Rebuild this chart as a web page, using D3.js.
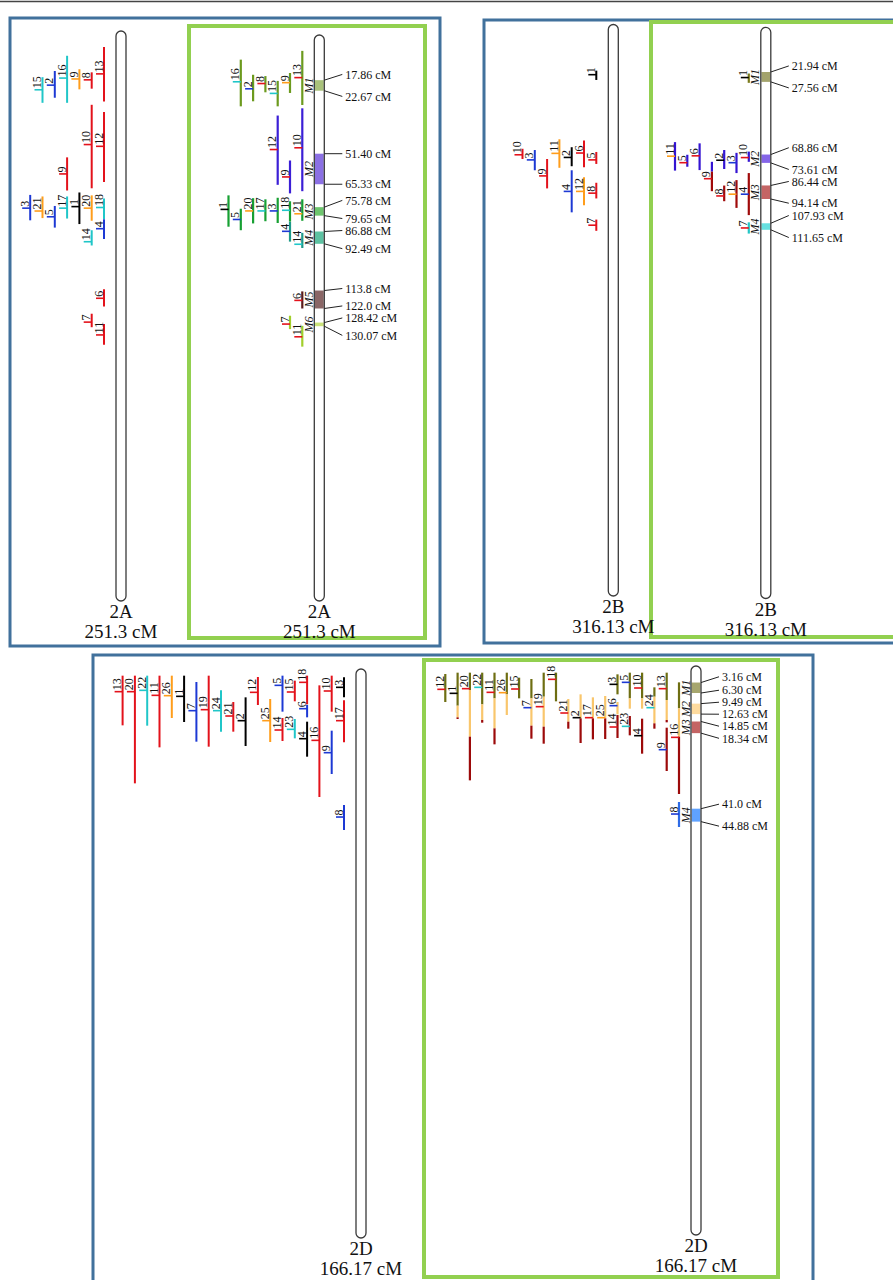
<!DOCTYPE html>
<html><head><meta charset="utf-8">
<script src="https://cdn.jsdelivr.net/npm/d3@7"></script>
<style>
body{margin:0;background:#fff}
svg{display:block}
text{font-family:"Liberation Serif","Times New Roman",serif;fill:#111}
</style>
</head><body>
<svg id="c" width="893" height="1280"></svg>
<script>
// ================= DATA =================
// QTL rows: [label, trait group, start cM, peak cM, end cM, left track, right track, right-panel cluster segments]
// cluster segments: ["M1"] or ["M1", breakCM, "M2", ...]

const len2A = 251.3;
const meta2A = [["M1","17.86","22.67"],["M2","51.40","65.33"],["M3","75.78","79.65"],["M4","86.88","92.49"],["M5","113.8","122.0"],["M6","128.42","130.07"]];
const qtl2A = [
 ["15","c",18.2,23.9,29.8,5,2,["M1"]],
 ["2","b",15.4,21.8,27.5,4,4,["M1"]],
 ["16","c",8.5,18.6,29.8,3,5,["M1"]],
 ["9","o",14.6,19.0,23.7,2,1,["M1"]],
 ["8","r",16.0,19.4,23.4,1,3,["M1"]],
 ["13","r",4.5,16.7,29.2,0,0,["M1"]],
 ["10","r",30.7,48.7,68.5,1,0,["M2"]],
 ["12","r",34.0,49.5,65.6,0,2,["M2"]],
 ["9","r",54.5,62.0,69.5,3,1,["M2"]],
 ["3","b",71.5,77.5,83.0,6,2,["M3"]],
 ["21","o",72.2,78.8,82.0,5,0,["M3"]],
 ["5","b",76.5,81.4,86.3,4,5,["M3"]],
 ["17","c",72.2,77.5,82.2,3,3,["M3"]],
 ["1","k",70.4,76.8,84.7,2,6,["M3"]],
 ["20","o",71.7,77.5,83.2,1,4,["M3"]],
 ["18","c",73.1,77.2,82.4,0,1,["M3"]],
 ["4","b",82.5,86.8,91.5,0,1,["M4"]],
 ["14","c",87.5,92.7,94.4,1,0,["M4"]],
 ["6","r",114.2,118.3,122.0,0,0,["M5"]],
 ["7","r",125.3,129.1,131.4,1,1,["M6"]],
 ["11","r",129.9,134.9,139.4,0,0,["M6"]]
];

const len2B = 316.13;
const meta2B = [["M1","21.94","27.56"],["M2","68.86","73.61"],["M3","86.44","94.14"],["M4","107.93","111.65"]];
const qtl2B = [
 ["1","k",22.8,25.1,28.1,0,0,["M1"]],
 ["10","r",67.2,70.6,73.0,6,0,["M2"]],
 ["3","b",67.9,73.5,79.4,5,1,["M2"]],
 ["9","r",73.0,82.6,89.7,4,3,["M2",78.6,"M3"]],
 ["11","o",61.8,69.8,78.0,3,6,["M2"]],
 ["2","k",66.3,72.1,77.1,2,2,["M2"]],
 ["6","r",62.5,69.6,77.7,1,4,["M2"]],
 ["5","r",69.0,73.5,75.8,0,5,["M2"]],
 ["4","b",79.4,91.4,103.3,2,0,["M3"]],
 ["12","o",83.4,91.4,99.2,1,1,["M3"]],
 ["8","r",86.5,92.4,95.4,0,2,["M3"]],
 ["7","r",107.4,110.6,113.8,0,0,["M4"]]
];

const len2D = 166.17;
const meta2D = [["M1","3.16","6.30"],["M2","9.49","12.63"],["M3","14.85","18.34"],["M4","41.0","44.88"]];
const qtl2D = [
 ["13","r",0.2,5.0,15.1,18,1,["M1",8.4,"M2",14.4,"M3"]],
 ["20","r",0.2,5.0,32.5,17,17,["M1",5.4,"M2",19.4,"M3"]],
 ["22","c",0.2,4.6,15.2,16,16,["M1",9.7,"M2",14.4,"M3"]],
 ["11","r",0.2,6.1,21.7,15,15,["M1",7.9,"M2",16.9,"M3"]],
 ["26","o",0.2,6.2,12.9,14,14,["M1",6.7,"M2"]],
 ["1","k",0.2,6.4,14.1,13,18,["M1",10.1,"M2",13.6,"M3"]],
 ["7","b",2.1,10.7,20.0,12,12,["M1",7.9,"M2",16.1,"M3"]],
 ["19","r",0.2,10.4,21.5,11,11,["M1",7.4,"M2",16.4,"M3"]],
 ["24","c",4.6,10.7,17.0,10,2,["M1",7.4,"M2",15.4,"M3"]],
 ["21","r",8.1,12.3,17.0,9,9,["M2",14.9,"M3"]],
 ["2","k",6.7,13.7,21.3,8,8,["M2",13.9,"M3"]],
 ["12","r",0.6,5.2,9.0,7,19,["M1"]],
 ["25","o",7.2,13.7,20.1,6,6,["M2",13.9,"M3"]],
 ["5","b",0.2,3.1,11.0,5,4,["M1",7.9,"M2"]],
 ["14","r",12.9,16.5,19.8,5,5,["M3"]],
 ["15","r",1.7,5.1,7.9,4,13,["M1"]],
 ["23","c",13.2,16.3,19.0,4,4,["M3"]],
 ["18","r",0.2,2.2,8.8,3,10,["M1"]],
 ["6","b",9.0,10.1,12.7,3,5,["M2"]],
 ["4","k",14.0,19.1,24.5,3,3,["M3"]],
 ["16","r",3.1,19.6,36.6,2,0,["M1",10.9,"M2",19.4,"M3"]],
 ["10","r",0.2,4.8,11.0,1,3,["M1",7.9,"M2"]],
 ["9","b",16.7,23.3,29.7,1,1,["M3"]],
 ["3","k",0.7,3.7,6.7,0,5,["M1"]],
 ["17","r",7.6,13.7,20.2,0,7,["M2",13.9,"M3"]],
 ["8","b",39.0,42.6,46.5,0,0,["M4"]]
];

// ================= STYLE / LAYOUT =================
const groupColor = d3.scaleOrdinal().domain(["r","o","c","b","k"])
  .range(["#e3121b","#ff9d1b","#20c6c8","#1d39d4","#000000"]);

const clusterBar = {
  "2A": d3.scaleOrdinal().domain(["M1","M2","M3","M4","M5","M6"]).range(["#6c9a1e","#3b1fd6","#17a032","#1e9a88","#5a1c1c","#a2cf2c"]),
  "2B": d3.scaleOrdinal().domain(["M1","M2","M3","M4"]).range(["#7b7b1c","#3414d2","#a00a0a","#22c6c6"]),
  "2D": d3.scaleOrdinal().domain(["M1","M2","M3","M4"]).range(["#6e6e12","#f9c66c","#9c0a0a","#2e6be6"])
};
const clusterBox = {
  "2A": d3.scaleOrdinal().domain(["M1","M2","M3","M4","M5","M6"]).range(["#a9c27b","#8b70e4","#6dc56d","#5dc2a2","#8a6666","#cae27a"]),
  "2B": d3.scaleOrdinal().domain(["M1","M2","M3","M4"]).range(["#a3a36c","#8565e8","#c46464","#66e0e0"]),
  "2D": d3.scaleOrdinal().domain(["M1","M2","M3","M4"]).range(["#a6a66e","#fedb9e","#c46464","#5fa2ff"])
};

const svg = d3.select("#c");

// top rule
svg.append("line").attr("x1",0).attr("x2",893).attr("y1",1.5).attr("y2",1.5)
  .attr("stroke","#444").attr("stroke-width",1.5);

// panel frames
const frames = [
  {x:10,y:18,w:430,h:628,c:"#41719c",sw:3},
  {x:189,y:26,w:236,h:612,c:"#92d050",sw:4},
  {x:484,y:20,w:420,h:623,c:"#41719c",sw:3},
  {x:651,y:22,w:260,h:615,c:"#92d050",sw:4},
  {x:93,y:655,w:720,h:650,c:"#41719c",sw:3},
  {x:424,y:660,w:354,h:617,c:"#92d050",sw:4}
];
svg.selectAll("rect.frame").data(frames).join("rect").attr("class","frame")
  .attr("x",d=>d.x).attr("y",d=>d.y).attr("width",d=>d.w).attr("height",d=>d.h)
  .attr("fill","none").attr("stroke",d=>d.c).attr("stroke-width",d=>d.sw);

const chroms = [
  {name:"2A", len:len2A, qtl:qtl2A, meta:meta2A, side:"L", cx:121,   y0:37,   y1:592},
  {name:"2A", len:len2A, qtl:qtl2A, meta:meta2A, side:"R", cx:319.3, y0:41,   y1:592},
  {name:"2B", len:len2B, qtl:qtl2B, meta:meta2B, side:"L", cx:613.3, y0:30.5, y1:587},
  {name:"2B", len:len2B, qtl:qtl2B, meta:meta2B, side:"R", cx:765.8, y0:33.4, y1:589.5},
  {name:"2D", len:len2D, qtl:qtl2D, meta:meta2D, side:"L", cx:361,   y0:675,  y1:1229},
  {name:"2D", len:len2D, qtl:qtl2D, meta:meta2D, side:"R", cx:696,   y0:672,  y1:1226}
];

const TRACK0 = 17, TRACKSTEP = 12.3, HALFW = 5;

function layoutLabels(items, gap){
  for(let it=0; it<200; it++){
    let moved=false;
    for(let i=1;i<items.length;i++){
      const d = items[i].ly - items[i-1].ly;
      if(d < gap - 0.01){
        const s=(gap-d)/2; items[i].ly+=s; items[i-1].ly-=s; moved=true;
      }
    }
    if(!moved) break;
  }
}

chroms.forEach(ch => {
  const g = svg.append("g");
  const y = d3.scaleLinear().domain([0, ch.len]).range([ch.y0, ch.y1]);
  const x = d3.scaleLinear().domain([0,1]).range([ch.cx-TRACK0, ch.cx-TRACK0-TRACKSTEP]);
  const top = y(0)-6, bot = y(ch.len)+9;

  // chromosome body
  g.append("rect").attr("x",ch.cx-HALFW).attr("y",top).attr("width",2*HALFW).attr("height",bot-top)
    .attr("rx",HALFW).attr("fill","#fff").attr("stroke","none");

  if(ch.side==="R"){
    // meta-QTL boxes
    g.selectAll("rect.mq").data(ch.meta).join("rect").attr("class","mq")
      .attr("x",ch.cx-HALFW+0.6).attr("width",2*HALFW-1.2)
      .attr("y",d=>y(+d[1])).attr("height",d=>y(+d[2])-y(+d[1]))
      .attr("fill",d=>clusterBox[ch.name](d[0]));
  }
  g.append("rect").attr("x",ch.cx-HALFW).attr("y",top).attr("width",2*HALFW).attr("height",bot-top)
    .attr("rx",HALFW).attr("fill","none").attr("stroke","#3a3a3a").attr("stroke-width",1.3);

  // chromosome name + length
  g.append("text").attr("x",ch.cx).attr("y",bot+17).attr("text-anchor","middle")
    .attr("font-size",19).text(ch.name);
  g.append("text").attr("x",ch.cx).attr("y",bot+37).attr("text-anchor","middle")
    .attr("font-size",19).text(ch.len+" cM");

  // QTL bars
  ch.qtl.forEach(q => {
    const [lab, grp, s, p, e, tl, tr, clus] = q;
    const bx = x(ch.side==="L" ? tl : tr);
    if(ch.side==="L"){
      g.append("line").attr("x1",bx).attr("x2",bx).attr("y1",y(s)).attr("y2",y(e))
        .attr("stroke",groupColor(grp)).attr("stroke-width",2);
    } else {
      const pieces=[]; let from=s;
      for(let i=0;i<clus.length;i+=2){
        const to = (i+1<clus.length) ? Math.min(clus[i+1], e) : e;
        if(to>from) pieces.push([from,to,clus[i]]);
        from = Math.max(from,to);
      }
      pieces.forEach(pc => {
        g.append("line").attr("x1",bx).attr("x2",bx).attr("y1",y(pc[0])).attr("y2",y(pc[1]))
          .attr("stroke",clusterBar[ch.name](pc[2])).attr("stroke-width",2.2);
      });
    }
    // peak tick
    g.append("line").attr("x1",bx-8).attr("x2",bx).attr("y1",y(p)).attr("y2",y(p))
      .attr("stroke",groupColor(grp)).attr("stroke-width",1.6);
    // label
    g.append("text").attr("transform",`translate(${bx-1.5},${y(p)-1.5}) rotate(-90)`)
      .attr("text-anchor","start").attr("font-size",12).text(lab);
  });

  if(ch.side==="R"){
    // meta-QTL names
    g.selectAll("text.mn").data(ch.meta).join("text").attr("class","mn")
      .attr("transform",d=>`translate(${ch.cx-HALFW-1.5},${(y(+d[1])+y(+d[2]))/2}) rotate(-90)`)
      .attr("text-anchor","middle").attr("font-size",12).attr("font-style","italic").text(d=>d[0]);

    // cM position labels with leader lines
    const items=[];
    ch.meta.forEach(m => {
      const ys=y(+m[1]), ye=y(+m[2]); const h=ye-ys;
      const off = Math.max(0,(22-h)/2);
      items.push({v:m[1], yy:ys, ly:ys-off});
      items.push({v:m[2], yy:ye, ly:ye+off});
    });
    layoutLabels(items, 12);
    items.forEach(it => {
      g.append("line").attr("x1",ch.cx+HALFW).attr("y1",it.yy).attr("x2",ch.cx+23).attr("y2",it.ly)
        .attr("stroke","#222").attr("stroke-width",1);
      g.append("text").attr("x",ch.cx+26).attr("y",it.ly).attr("dy","0.35em")
        .attr("font-size",12).text(it.v+" cM");
    });
  }
});
</script>
</body></html>
